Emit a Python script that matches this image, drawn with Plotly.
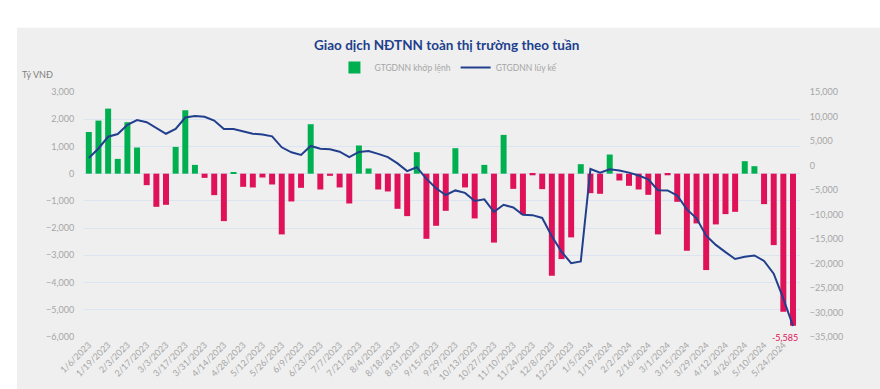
import plotly.graph_objects as go

weeks = [
    "1/6/2023", "1/13/2023", "1/19/2023", "1/27/2023", "2/3/2023", "2/10/2023",
    "2/17/2023", "2/24/2023", "3/3/2023", "3/10/2023", "3/17/2023", "3/24/2023",
    "3/31/2023", "4/7/2023", "4/14/2023", "4/21/2023", "4/28/2023", "5/5/2023",
    "5/12/2023", "5/19/2023", "5/26/2023", "6/2/2023", "6/9/2023", "6/16/2023",
    "6/23/2023", "6/30/2023", "7/7/2023", "7/14/2023", "7/21/2023", "7/28/2023",
    "8/4/2023", "8/11/2023", "8/18/2023", "8/25/2023", "8/31/2023", "9/8/2023",
    "9/15/2023", "9/22/2023", "9/29/2023", "10/6/2023", "10/13/2023", "10/20/2023",
    "10/27/2023", "11/3/2023", "11/10/2023", "11/17/2023", "11/24/2023", "12/1/2023",
    "12/8/2023", "12/15/2023", "12/22/2023", "12/29/2023", "1/5/2024", "1/12/2024",
    "1/19/2024", "1/26/2024", "2/2/2024", "2/7/2024", "2/16/2024", "2/23/2024",
    "3/1/2024", "3/8/2024", "3/15/2024", "3/22/2024", "3/29/2024", "4/5/2024",
    "4/12/2024", "4/19/2024", "4/26/2024", "5/3/2024", "5/10/2024", "5/17/2024",
    "5/24/2024", "5/31/2024",
]

weekly_net = [
    1530, 1950, 2390, 543, 1890, 960, -422, -1218, -1145, 983, 2330, 323,
    -154, -789, -1743, 40, -484, -506, -140, -397, -2231, -1021, -520, 1817,
    -581, -80, -506, -1095, 1035, 190, -581, -654, -1291, -1560, 789, -2393,
    -1915, -1365, 936, -506, -1644, 323, -2532, 1424, -558, -1497, -60, -569,
    -3750, -3138, -2341, 349, -716, -740, 703, -250, -446, -581, -777, -2231,
    -60, -1034, -2832, -1828, -3541, -1864, -1486, -1402, 459, 275, -1119, -2624,
    -5071, -5585,
]

cumulative = [
    1530, 3480, 5870, 6413, 8303, 9263, 8841, 7623, 6478, 7461, 9791, 10114,
    9960, 9171, 7428, 7468, 6984, 6478, 6338, 5941, 3710, 2689, 2169, 3986,
    3405, 3325, 2819, 1724, 2759, 2949, 2368, 1714, 423, -1137, -348, -2741,
    -4656, -6021, -5085, -5591, -7235, -6912, -9444, -8020, -8578, -10075, -10135, -10704,
    -14454, -17592, -19933, -19584, -716, -1456, -753, -1003, -1449, -2030, -2807, -5038,
    -5098, -6132, -8964, -10792, -14333, -16197, -17683, -19085, -18626, -18351, -19470, -22094,
    -27165, -32750,
]

left_ticks = [3000, 2000, 1000, 0, -1000, -2000, -3000, -4000, -5000, -6000]
right_ticks = [15000, 10000, 5000, 0, -5000, -10000, -15000, -20000, -25000, -30000, -35000]

GREEN = "#00b050"
RED = "#df1259"
BLUE = "#213f8c"
GRAY_TXT = "#a6a6a6"
FONT = "Lato"

bar_colors = [GREEN if v >= 0 else RED for v in weekly_net]

fig = go.Figure()
fig.add_trace(go.Bar(
    x=weeks, y=weekly_net, name="GTGDNN khớp lệnh",
    marker=dict(color=bar_colors, line=dict(width=0)),
    yaxis="y",
))
fig.add_trace(go.Scatter(
    x=weeks, y=cumulative, name="GTGDNN lũy kế", mode="lines",
    line=dict(color=BLUE, width=2),
    yaxis="y2",
))

fig.add_annotation(
    x=weeks[-1], y=weekly_net[-1], xref="x", yref="y",
    text=f"{weekly_net[-1]:,}", showarrow=False,
    xanchor="center", yanchor="top", xshift=-8, yshift=-4,
    font=dict(family=FONT, size=9, color=RED),
)
fig.add_annotation(
    x=-0.065, y=1.073, xref="paper", yref="paper",
    text="Tỷ VNĐ", showarrow=False, xanchor="center", yanchor="middle",
    font=dict(family=FONT, size=9, color="#7f7f7f"),
)

# gray chart panel
fig.add_shape(type="rect", xref="paper", yref="paper",
              x0=-0.0936, x1=1.12, y0=-0.25, y1=1.2625,
              fillcolor="#efefef", line=dict(width=0), layer="below")

fig.update_layout(
    width=880, height=389,
    margin=dict(l=84, r=80, t=92, b=52, autoexpand=False),
    paper_bgcolor="white",
    plot_bgcolor="rgba(0,0,0,0)",
    bargap=0.38,
    font=dict(family=FONT, size=9, color=GRAY_TXT),
    title=dict(
        text="<b>Giao dịch NĐTNN toàn thị trường theo tuần</b>",
        x=0.5066, xref="paper", xanchor="center",
        y=1 - 45 / 389, yref="container", yanchor="middle",
        font=dict(family=FONT, size=13.5, color=BLUE),
    ),
    legend=dict(
        orientation="h", x=0.509, xanchor="center", y=1.10, yanchor="middle",
        font=dict(family=FONT, size=8.5, color=GRAY_TXT),
        bgcolor="rgba(0,0,0,0)", itemwidth=30,
    ),
    xaxis=dict(
        type="category", automargin=False,
        tickmode="array", tickvals=weeks[::2], ticktext=weeks[::2],
        tickangle=-45, showgrid=False, zeroline=False, showline=False,
        ticks="", tickfont=dict(family=FONT, size=9, color=GRAY_TXT),
    ),
    yaxis=dict(
        range=[-6000, 3000], tickmode="array", tickvals=left_ticks,
        tickformat=",d", showgrid=True, gridcolor="#dbe5f1", gridwidth=1,
        zeroline=False, showline=False, ticks="outside", ticklen=7,
        tickcolor="rgba(0,0,0,0)", automargin=False,
        tickfont=dict(family=FONT, size=9, color=GRAY_TXT),
    ),
    yaxis2=dict(
        range=[-35000, 15000], tickmode="array", tickvals=right_ticks,
        tickformat=",d", overlaying="y", side="right", showgrid=False,
        zeroline=False, showline=False, ticks="outside", ticklen=7,
        tickcolor="rgba(0,0,0,0)", automargin=False,
        tickfont=dict(family=FONT, size=9, color=GRAY_TXT),
    ),
)

fig.write_html(
    "out.html",
    config={"displayModeBar": False},
    post_script="document.body.style.margin='0';document.body.style.overflow='hidden';",
)
